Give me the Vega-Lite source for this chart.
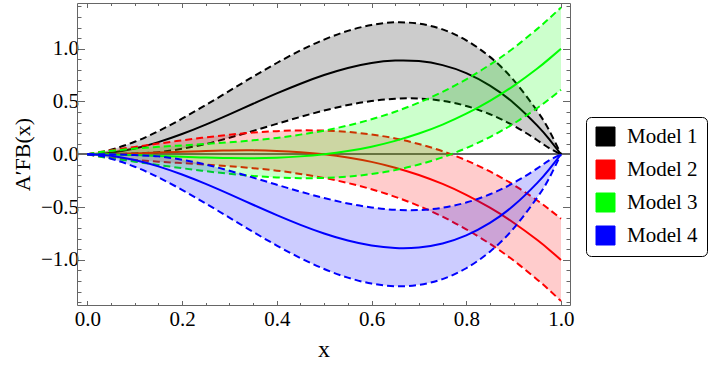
{
  "$schema": "https://vega.github.io/schema/vega-lite/v6.json",
  "width": 493,
  "height": 302,
  "autosize": {"type": "none"},
  "padding": {"left": 77, "top": 3, "right": 140, "bottom": 60},
  "background": "white",
  "config": {
    "view": {"stroke": null},
    "font": "Liberation Serif",
    "axis": {"grid": false, "domainColor": "#666666", "tickColor": "#666666", "labelColor": "black", "titleColor": "black", "labelFont": "Liberation Serif", "titleFont": "Liberation Serif", "titleFontWeight": "normal", "labelOverlap": false, "labelFlush": false}
  },
  "data": {"values": [
    {"model": "Model 1", "x": 0, "c": 0, "u": 0, "l": 0},
    {"model": "Model 1", "x": 0.025, "c": 0.004, "u": 0.015, "l": 0.0},
    {"model": "Model 1", "x": 0.05, "c": 0.014, "u": 0.042, "l": 0.0},
    {"model": "Model 1", "x": 0.1, "c": 0.054, "u": 0.118, "l": 0.008},
    {"model": "Model 1", "x": 0.15, "c": 0.115, "u": 0.219, "l": 0.02},
    {"model": "Model 1", "x": 0.2, "c": 0.192, "u": 0.337, "l": 0.052},
    {"model": "Model 1", "x": 0.25, "c": 0.281, "u": 0.466, "l": 0.097},
    {"model": "Model 1", "x": 0.3, "c": 0.378, "u": 0.6, "l": 0.156},
    {"model": "Model 1", "x": 0.35, "c": 0.478, "u": 0.735, "l": 0.221},
    {"model": "Model 1", "x": 0.4, "c": 0.576, "u": 0.864, "l": 0.288},
    {"model": "Model 1", "x": 0.45, "c": 0.668, "u": 0.983, "l": 0.354},
    {"model": "Model 1", "x": 0.5, "c": 0.75, "u": 1.086, "l": 0.414},
    {"model": "Model 1", "x": 0.55, "c": 0.817, "u": 1.168, "l": 0.466},
    {"model": "Model 1", "x": 0.6, "c": 0.864, "u": 1.224, "l": 0.504},
    {"model": "Model 1", "x": 0.65, "c": 0.887, "u": 1.249, "l": 0.526},
    {"model": "Model 1", "x": 0.7, "c": 0.882, "u": 1.236, "l": 0.528},
    {"model": "Model 1", "x": 0.75, "c": 0.844, "u": 1.182, "l": 0.506},
    {"model": "Model 1", "x": 0.8, "c": 0.768, "u": 1.079, "l": 0.457},
    {"model": "Model 1", "x": 0.85, "c": 0.65, "u": 0.922, "l": 0.379},
    {"model": "Model 1", "x": 0.9, "c": 0.486, "u": 0.702, "l": 0.271},
    {"model": "Model 1", "x": 0.95, "c": 0.271, "u": 0.408, "l": 0.133},
    {"model": "Model 1", "x": 0.975, "c": 0.143, "u": 0.227, "l": 0.058},
    {"model": "Model 1", "x": 1, "c": 0, "u": 0, "l": 0},

    {"model": "Model 2", "x": 0, "c": 0, "u": 0, "l": 0},
    {"model": "Model 2", "x": 0.025, "c": 0.001, "u": 0.021, "l": -0.02},
    {"model": "Model 2", "x": 0.05, "c": 0.002, "u": 0.038, "l": -0.033},
    {"model": "Model 2", "x": 0.1, "c": 0.008, "u": 0.07, "l": -0.054},
    {"model": "Model 2", "x": 0.15, "c": 0.016, "u": 0.101, "l": -0.07},
    {"model": "Model 2", "x": 0.2, "c": 0.024, "u": 0.132, "l": -0.084},
    {"model": "Model 2", "x": 0.25, "c": 0.031, "u": 0.16, "l": -0.098},
    {"model": "Model 2", "x": 0.3, "c": 0.036, "u": 0.185, "l": -0.113},
    {"model": "Model 2", "x": 0.35, "c": 0.037, "u": 0.205, "l": -0.132},
    {"model": "Model 2", "x": 0.4, "c": 0.032, "u": 0.219, "l": -0.155},
    {"model": "Model 2", "x": 0.45, "c": 0.02, "u": 0.226, "l": -0.186},
    {"model": "Model 2", "x": 0.5, "c": 0, "u": 0.224, "l": -0.224},
    {"model": "Model 2", "x": 0.55, "c": -0.03, "u": 0.212, "l": -0.272},
    {"model": "Model 2", "x": 0.6, "c": -0.072, "u": 0.187, "l": -0.331},
    {"model": "Model 2", "x": 0.65, "c": -0.127, "u": 0.15, "l": -0.403},
    {"model": "Model 2", "x": 0.7, "c": -0.196, "u": 0.097, "l": -0.489},
    {"model": "Model 2", "x": 0.75, "c": -0.281, "u": 0.029, "l": -0.591},
    {"model": "Model 2", "x": 0.8, "c": -0.384, "u": -0.058, "l": -0.71},
    {"model": "Model 2", "x": 0.85, "c": -0.506, "u": -0.163, "l": -0.848},
    {"model": "Model 2", "x": 0.9, "c": -0.648, "u": -0.29, "l": -1.006},
    {"model": "Model 2", "x": 0.95, "c": -0.812, "u": -0.438, "l": -1.187},
    {"model": "Model 2", "x": 0.975, "c": -0.903, "u": -0.521, "l": -1.285},
    {"model": "Model 2", "x": 1, "c": -1, "u": -0.61, "l": -1.39},

    {"model": "Model 3", "x": 0, "c": 0, "u": 0, "l": 0},
    {"model": "Model 3", "x": 0.025, "c": -0.001, "u": 0.02, "l": -0.021},
    {"model": "Model 3", "x": 0.05, "c": -0.002, "u": 0.033, "l": -0.038},
    {"model": "Model 3", "x": 0.1, "c": -0.008, "u": 0.054, "l": -0.07},
    {"model": "Model 3", "x": 0.15, "c": -0.016, "u": 0.07, "l": -0.101},
    {"model": "Model 3", "x": 0.2, "c": -0.024, "u": 0.084, "l": -0.132},
    {"model": "Model 3", "x": 0.25, "c": -0.031, "u": 0.098, "l": -0.16},
    {"model": "Model 3", "x": 0.3, "c": -0.036, "u": 0.113, "l": -0.185},
    {"model": "Model 3", "x": 0.35, "c": -0.037, "u": 0.132, "l": -0.205},
    {"model": "Model 3", "x": 0.4, "c": -0.032, "u": 0.155, "l": -0.219},
    {"model": "Model 3", "x": 0.45, "c": -0.02, "u": 0.186, "l": -0.226},
    {"model": "Model 3", "x": 0.5, "c": 0, "u": 0.224, "l": -0.224},
    {"model": "Model 3", "x": 0.55, "c": 0.03, "u": 0.272, "l": -0.212},
    {"model": "Model 3", "x": 0.6, "c": 0.072, "u": 0.331, "l": -0.187},
    {"model": "Model 3", "x": 0.65, "c": 0.127, "u": 0.403, "l": -0.15},
    {"model": "Model 3", "x": 0.7, "c": 0.196, "u": 0.489, "l": -0.097},
    {"model": "Model 3", "x": 0.75, "c": 0.281, "u": 0.591, "l": -0.029},
    {"model": "Model 3", "x": 0.8, "c": 0.384, "u": 0.71, "l": 0.058},
    {"model": "Model 3", "x": 0.85, "c": 0.506, "u": 0.848, "l": 0.163},
    {"model": "Model 3", "x": 0.9, "c": 0.648, "u": 1.006, "l": 0.29},
    {"model": "Model 3", "x": 0.95, "c": 0.812, "u": 1.187, "l": 0.438},
    {"model": "Model 3", "x": 0.975, "c": 0.903, "u": 1.285, "l": 0.521},
    {"model": "Model 3", "x": 1, "c": 1, "u": 1.39, "l": 0.61},

    {"model": "Model 4", "x": 0, "c": 0, "u": 0, "l": 0},
    {"model": "Model 4", "x": 0.025, "c": -0.004, "u": 0.0, "l": -0.015},
    {"model": "Model 4", "x": 0.05, "c": -0.014, "u": 0.0, "l": -0.042},
    {"model": "Model 4", "x": 0.1, "c": -0.054, "u": -0.008, "l": -0.118},
    {"model": "Model 4", "x": 0.15, "c": -0.115, "u": -0.02, "l": -0.219},
    {"model": "Model 4", "x": 0.2, "c": -0.192, "u": -0.052, "l": -0.337},
    {"model": "Model 4", "x": 0.25, "c": -0.281, "u": -0.097, "l": -0.466},
    {"model": "Model 4", "x": 0.3, "c": -0.378, "u": -0.156, "l": -0.6},
    {"model": "Model 4", "x": 0.35, "c": -0.478, "u": -0.221, "l": -0.735},
    {"model": "Model 4", "x": 0.4, "c": -0.576, "u": -0.288, "l": -0.864},
    {"model": "Model 4", "x": 0.45, "c": -0.668, "u": -0.354, "l": -0.983},
    {"model": "Model 4", "x": 0.5, "c": -0.75, "u": -0.414, "l": -1.086},
    {"model": "Model 4", "x": 0.55, "c": -0.817, "u": -0.466, "l": -1.168},
    {"model": "Model 4", "x": 0.6, "c": -0.864, "u": -0.504, "l": -1.224},
    {"model": "Model 4", "x": 0.65, "c": -0.887, "u": -0.526, "l": -1.249},
    {"model": "Model 4", "x": 0.7, "c": -0.882, "u": -0.528, "l": -1.236},
    {"model": "Model 4", "x": 0.75, "c": -0.844, "u": -0.506, "l": -1.182},
    {"model": "Model 4", "x": 0.8, "c": -0.768, "u": -0.457, "l": -1.079},
    {"model": "Model 4", "x": 0.85, "c": -0.65, "u": -0.379, "l": -0.922},
    {"model": "Model 4", "x": 0.9, "c": -0.486, "u": -0.271, "l": -0.702},
    {"model": "Model 4", "x": 0.95, "c": -0.271, "u": -0.133, "l": -0.408},
    {"model": "Model 4", "x": 0.975, "c": -0.143, "u": -0.058, "l": -0.227},
    {"model": "Model 4", "x": 1, "c": 0, "u": 0, "l": 0}
  ]},
  "resolve": {"axis": {"x": "independent", "y": "independent"}},
  "layer": [
    {
      "mark": {"type": "rule", "color": "#666666", "strokeWidth": 1},
      "encoding": {
        "y": {"datum": 0, "type": "quantitative", "scale": {"domain": [-1.427, 1.432], "nice": false, "zero": false}, "axis": null}
      }
    },
    {
      "transform": [{"filter": "datum.model == 'Model 1'"}],
      "mark": {"type": "area", "fillOpacity": 0.2, "interpolate": "natural"},
      "encoding": {
        "x": {"field": "x", "type": "quantitative", "scale": {"domain": [-0.0217, 1.019], "nice": false, "zero": false},
          "axis": {"orient": "bottom", "values": [0,0.05,0.1,0.15,0.2,0.25,0.3,0.35,0.4,0.45,0.5,0.55,0.6,0.65,0.7,0.75,0.8,0.85,0.9,0.95,1],
            "labelExpr": "abs(datum.value*5 - round(datum.value*5)) < 0.001 ? format(datum.value, '.1f') : ''",
            "tickSize": {"condition": {"test": "abs(datum.value*5 - round(datum.value*5)) < 0.001", "value": -4.5}, "value": -2.5},
            "labelFontSize": 21, "labelPadding": 8, "title": "x", "titleFontSize": 24, "titlePadding": 6}},
        "y": {"field": "l", "type": "quantitative", "scale": {"domain": [-1.427, 1.432], "nice": false, "zero": false},
          "axis": {"orient": "left", "values": [-1.4,-1.3,-1.2,-1.1,-1,-0.9,-0.8,-0.7,-0.6,-0.5,-0.4,-0.3,-0.2,-0.1,0,0.1,0.2,0.3,0.4,0.5,0.6,0.7,0.8,0.9,1,1.1,1.2,1.3,1.4],
            "labelExpr": "abs(datum.value*2 - round(datum.value*2)) < 0.001 ? format(datum.value, '.1f') : ''",
            "tickSize": {"condition": {"test": "abs(datum.value*2 - round(datum.value*2)) < 0.001", "value": -7.5}, "value": -4},
            "labelFontSize": 21, "labelPadding": 6, "title": "A′FB(x)", "titleFontSize": 22, "titlePadding": 6}},
        "y2": {"field": "u"},
        "color": {"field": "model", "type": "nominal",
          "scale": {"domain": ["Model 1", "Model 2", "Model 3", "Model 4"], "range": ["#000000", "#ff0000", "#00ff00", "#0000ff"]},
          "legend": {"orient": "none", "legendX": 509, "legendY": 114, "title": null, "symbolType": "square", "symbolSize": 361,
            "symbolStrokeColor": "#888888", "symbolStrokeWidth": 1, "symbolOpacity": 1, "symbolFillOpacity": 1,
            "labelFont": "Liberation Serif", "labelFontSize": 21, "labelColor": "black", "labelOffset": 11, "rowPadding": 10,
            "padding": 9, "strokeColor": "black", "cornerRadius": 5, "fillColor": "white"}}
      }
    },
    {
      "transform": [{"filter": "datum.model == 'Model 1'"}],
      "mark": {"type": "line", "strokeWidth": 2, "interpolate": "natural"},
      "encoding": {
        "x": {"field": "x", "type": "quantitative", "scale": {"domain": [-0.0217, 1.019], "nice": false, "zero": false},
          "axis": {"orient": "top", "values": [0,0.05,0.1,0.15,0.2,0.25,0.3,0.35,0.4,0.45,0.5,0.55,0.6,0.65,0.7,0.75,0.8,0.85,0.9,0.95,1],
            "labels": false, "title": null,
            "tickSize": {"condition": {"test": "abs(datum.value*5 - round(datum.value*5)) < 0.001", "value": -4.5}, "value": -2.5}}},
        "y": {"field": "c", "type": "quantitative", "scale": {"domain": [-1.427, 1.432], "nice": false, "zero": false},
          "axis": {"orient": "right", "values": [-1.4,-1.3,-1.2,-1.1,-1,-0.9,-0.8,-0.7,-0.6,-0.5,-0.4,-0.3,-0.2,-0.1,0,0.1,0.2,0.3,0.4,0.5,0.6,0.7,0.8,0.9,1,1.1,1.2,1.3,1.4],
            "labels": false, "title": null,
            "tickSize": {"condition": {"test": "abs(datum.value*2 - round(datum.value*2)) < 0.001", "value": -7.5}, "value": -4}}},
        "color": {"field": "model", "type": "nominal", "scale": {"domain": ["Model 1", "Model 2", "Model 3", "Model 4"], "range": ["#000000", "#ff0000", "#00ff00", "#0000ff"]}, "legend": null}
      }
    },
    {
      "transform": [{"filter": "datum.model == 'Model 1'"}, {"fold": ["u", "l"], "as": ["b", "v"]}],
      "mark": {"type": "line", "strokeWidth": 2, "strokeDash": [7, 4], "interpolate": "natural"},
      "encoding": {
        "x": {"field": "x", "type": "quantitative", "scale": {"domain": [-0.0217, 1.019], "nice": false, "zero": false}, "axis": null},
        "y": {"field": "v", "type": "quantitative", "scale": {"domain": [-1.427, 1.432], "nice": false, "zero": false}, "axis": null},
        "detail": {"field": "b"},
        "color": {"field": "model", "type": "nominal", "legend": null}
      }
    },
    {
      "transform": [{"filter": "datum.model == 'Model 2'"}],
      "mark": {"type": "area", "fillOpacity": 0.2, "interpolate": "natural"},
      "encoding": {
        "x": {"field": "x", "type": "quantitative", "axis": null},
        "y": {"field": "l", "type": "quantitative", "axis": null},
        "y2": {"field": "u"},
        "color": {"field": "model", "type": "nominal", "legend": null}
      }
    },
    {
      "transform": [{"filter": "datum.model == 'Model 2'"}],
      "mark": {"type": "line", "strokeWidth": 2, "interpolate": "natural"},
      "encoding": {
        "x": {"field": "x", "type": "quantitative", "axis": null},
        "y": {"field": "c", "type": "quantitative", "axis": null},
        "color": {"field": "model", "type": "nominal", "legend": null}
      }
    },
    {
      "transform": [{"filter": "datum.model == 'Model 2'"}, {"fold": ["u", "l"], "as": ["b", "v"]}],
      "mark": {"type": "line", "strokeWidth": 2, "strokeDash": [7, 4], "interpolate": "natural"},
      "encoding": {
        "x": {"field": "x", "type": "quantitative", "axis": null},
        "y": {"field": "v", "type": "quantitative", "axis": null},
        "detail": {"field": "b"},
        "color": {"field": "model", "type": "nominal", "legend": null}
      }
    },
    {
      "transform": [{"filter": "datum.model == 'Model 3'"}],
      "mark": {"type": "area", "fillOpacity": 0.2, "interpolate": "natural"},
      "encoding": {
        "x": {"field": "x", "type": "quantitative", "axis": null},
        "y": {"field": "l", "type": "quantitative", "axis": null},
        "y2": {"field": "u"},
        "color": {"field": "model", "type": "nominal", "legend": null}
      }
    },
    {
      "transform": [{"filter": "datum.model == 'Model 3'"}],
      "mark": {"type": "line", "strokeWidth": 2, "interpolate": "natural"},
      "encoding": {
        "x": {"field": "x", "type": "quantitative", "axis": null},
        "y": {"field": "c", "type": "quantitative", "axis": null},
        "color": {"field": "model", "type": "nominal", "legend": null}
      }
    },
    {
      "transform": [{"filter": "datum.model == 'Model 3'"}, {"fold": ["u", "l"], "as": ["b", "v"]}],
      "mark": {"type": "line", "strokeWidth": 2, "strokeDash": [7, 4], "interpolate": "natural"},
      "encoding": {
        "x": {"field": "x", "type": "quantitative", "axis": null},
        "y": {"field": "v", "type": "quantitative", "axis": null},
        "detail": {"field": "b"},
        "color": {"field": "model", "type": "nominal", "legend": null}
      }
    },
    {
      "transform": [{"filter": "datum.model == 'Model 4'"}],
      "mark": {"type": "area", "fillOpacity": 0.2, "interpolate": "natural"},
      "encoding": {
        "x": {"field": "x", "type": "quantitative", "axis": null},
        "y": {"field": "l", "type": "quantitative", "axis": null},
        "y2": {"field": "u"},
        "color": {"field": "model", "type": "nominal", "legend": null}
      }
    },
    {
      "transform": [{"filter": "datum.model == 'Model 4'"}],
      "mark": {"type": "line", "strokeWidth": 2, "interpolate": "natural"},
      "encoding": {
        "x": {"field": "x", "type": "quantitative", "axis": null},
        "y": {"field": "c", "type": "quantitative", "axis": null},
        "color": {"field": "model", "type": "nominal", "legend": null}
      }
    },
    {
      "transform": [{"filter": "datum.model == 'Model 4'"}, {"fold": ["u", "l"], "as": ["b", "v"]}],
      "mark": {"type": "line", "strokeWidth": 2, "strokeDash": [7, 4], "interpolate": "natural"},
      "encoding": {
        "x": {"field": "x", "type": "quantitative", "axis": null},
        "y": {"field": "v", "type": "quantitative", "axis": null},
        "detail": {"field": "b"},
        "color": {"field": "model", "type": "nominal", "legend": null}
      }
    }
  ]
}
